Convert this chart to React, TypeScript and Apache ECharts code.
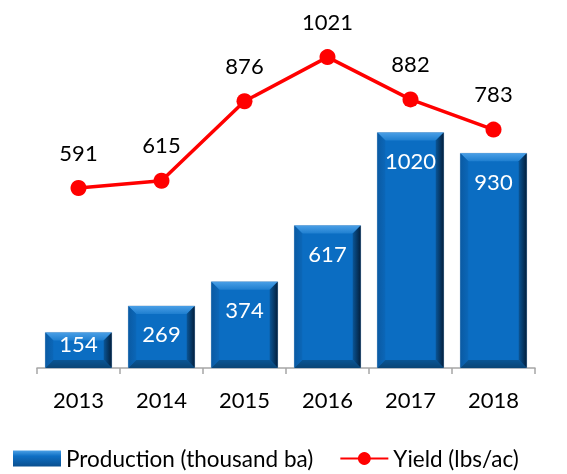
import React, { useEffect, useRef } from "react";
import * as echarts from "echarts";

const years = ["2013", "2014", "2015", "2016", "2017", "2018"];
const production = [154, 269, 374, 617, 1020, 930];
const yieldVals = [591, 615, 876, 1021, 882, 783];
const prodName = "Production (thousand ba)";
const yieldName = "Yield (lbs/ac)";

const FONT = "Lato";

export default function App() {
  const ref = useRef<HTMLDivElement>(null);
  useEffect(() => {
    const chart = echarts.init(ref.current!, null, { renderer: "svg" });
    const lg = (x1: number, y1: number, x2: number, y2: number, stops: [number, string][]) =>
      new echarts.graphic.LinearGradient(x1, y1, x2, y2, stops.map(([offset, color]) => ({ offset, color })));
    const bevel = 8;
    chart.setOption({
      animation: false,
      grid: { left: 37, right: 32, top: 30, bottom: 106 },
      legend: {
        left: 8,
        top: 442,
        itemWidth: 48,
        itemHeight: 16,
        itemGap: 26,
        textStyle: { fontFamily: FONT, fontSize: 22.5, color: "#000", lineHeight: 22 },
        data: [
          {
            name: prodName,
            icon: "rect",
            itemStyle: {
              color: lg(0, 0, 0, 1, [[0, "#4aa0e6"], [0.35, "#0e6fc4"], [1, "#0a4f8f"]]),
            },
          },
          { name: yieldName },
        ],
      },
      xAxis: {
        type: "category",
        data: years,
        axisLine: { lineStyle: { color: "#a6a6a6", width: 1.5 } },
        axisTick: { show: true, length: 6, lineStyle: { color: "#a6a6a6", width: 1.5 } },
        axisLabel: { fontFamily: FONT, fontSize: 22, color: "#000", margin: 20 },
      },
      yAxis: [
        { type: "value", min: 0, max: 1464, show: false, splitLine: { show: false } },
        { type: "value", min: 0, max: 1110, show: false, splitLine: { show: false } },
      ],
      series: [
        {
          type: "custom",
          name: "bevel",
          z: 2,
          silent: true,
          yAxisIndex: 0,
          encode: { x: 0, y: 1 },
          data: production.map((v, i) => [i, v]),
          renderItem: (params: any, api: any) => {
            const idx = api.value(0);
            const val = api.value(1);
            const top = api.coord([idx, val]);
            const base = api.coord([idx, 0]);
            const w = api.size([1, 0])[0] * 0.8;
            const x0 = top[0] - w / 2;
            const x1 = top[0] + w / 2;
            const y0 = top[1];
            const y1 = base[1];
            const b = Math.min(bevel, (y1 - y0) / 2);
            return {
              type: "group",
              children: [
                {
                  type: "rect",
                  shape: { x: x0, y: y0, width: w, height: y1 - y0 },
                  style: { fill: "#0b6dc2", stroke: "#9bb3cc", lineWidth: 0.6 },
                },
                {
                  type: "polygon",
                  shape: { points: [[x0, y0], [x1, y0], [x1 - b, y0 + b], [x0 + b, y0 + b]] },
                  style: { fill: lg(0, 0, 0, 1, [[0, "#4a9fe6"], [1, "#1f7fd0"]]) },
                },
                {
                  type: "polygon",
                  shape: { points: [[x0, y0], [x0 + b, y0 + b], [x0 + b, y1 - b], [x0, y1]] },
                  style: { fill: lg(0, 0, 1, 0, [[0, "#0a5aa3"], [1, "#0b67b8"]]) },
                },
                {
                  type: "polygon",
                  shape: { points: [[x1, y0], [x1, y1], [x1 - b, y1 - b], [x1 - b, y0 + b]] },
                  style: { fill: lg(0, 0, 1, 0, [[0, "#0a5596"], [1, "#031f3c"]]) },
                },
                {
                  type: "polygon",
                  shape: { points: [[x0, y1], [x1, y1], [x1 - b, y1 - b], [x0 + b, y1 - b]] },
                  style: { fill: lg(0, 0, 0, 1, [[0, "#0a5594"], [1, "#0a4576"]]) },
                },
              ],
            };
          },
        },
        {
          type: "bar",
          name: prodName,
          z: 3,
          yAxisIndex: 0,
          barWidth: "80%",
          data: production.map((v, i) =>
            i === 0 ? { value: v, label: { distance: 0 } } : v
          ),
          itemStyle: { color: "rgba(0,0,0,0)" },
          label: {
            show: true,
            position: "insideTop",
            distance: 17,
            fontFamily: FONT,
            fontSize: 22,
            color: "#fff",
          },
        },
        {
          type: "line",
          name: yieldName,
          z: 4,
          yAxisIndex: 1,
          data: yieldVals,
          clip: false,
          symbol: "circle",
          symbolSize: 16,
          lineStyle: { color: "#ff0000", width: 3.5 },
          itemStyle: { color: "#ff0000" },
          label: {
            show: true,
            position: "top",
            distance: 17,
            fontFamily: FONT,
            fontSize: 22,
            color: "#000",
          },
        },
      ],
    });
    return () => chart.dispose();
  }, []);
  return (
    <div
      ref={ref}
      style={{ position: "fixed", left: 0, top: 0, width: 567, height: 474 }}
    />
  );
}
